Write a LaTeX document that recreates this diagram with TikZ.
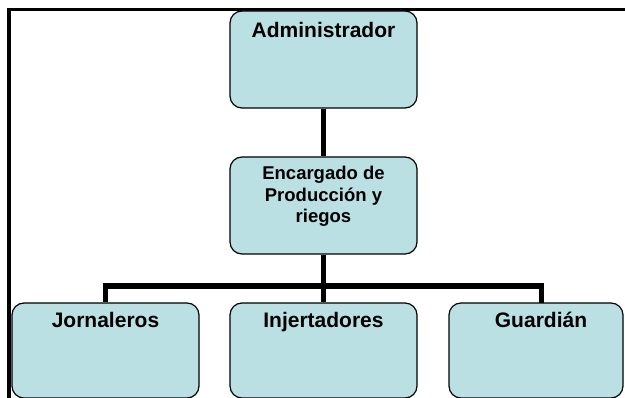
\documentclass[tikz,border=0pt]{standalone}
\usepackage{fontspec}
\setmainfont{Liberation Sans}
\usepackage{tikz}

\definecolor{boxfill}{RGB}{187,224,227}

\begin{document}
\begin{tikzpicture}[x=1pt,y=-1pt,
	box/.style={draw, line width=1.2pt, fill=boxfill, rounded corners=12pt,
		minimum width=187pt, minimum height=97pt, inner sep=0pt},
	lbl/.style={anchor=north, inner sep=0pt, align=center,
		font=\bfseries\fontsize{21}{21.7}\selectfont},
	link/.style={line width=5.5pt}]
		\clip (0,0) rectangle (625,398);
		
		% frame
		\draw[line width=3.5pt] (9,420) -- (9,9.5) -- (640,9.5);
		
		\node[box, label={[lbl,yshift=-11.5pt]north:Administrador}] (admin) at (323.5,59.5) {};
		\node[box, label={[lbl,yshift=-9.5pt,font=\bfseries\fontsize{18.5}{21.7}\selectfont]north:Encargado de\\Producción y\\riegos}] (encargado) at (323.5,205.5) {};
		
		\node[box, minimum height=95pt, label={[lbl,yshift=-9.7pt]north:Jornaleros}] (jornaleros) at (105.5,350.5) {};
		\node[box, minimum height=95pt, label={[lbl,yshift=-9.7pt]north:Injertadores}] (injertadores) at (323.5,350.5) {};
		\node[box, minimum height=95pt, minimum width=174pt, label={[lbl,yshift=-9.7pt,xshift=5pt]north:Guardián}] (guardian) at (536,350.5) {};
		
		\coordinate (ramal) at (323.5,286);
		\coordinate (guardtop) at (541.5,303);
		
		\draw[link] (admin) -- (encargado);
		\draw[link] (encargado) -- (injertadores);
		\draw[link] (jornaleros.north) |- (ramal) -| (guardtop);
	\end{tikzpicture}
\end{document}
